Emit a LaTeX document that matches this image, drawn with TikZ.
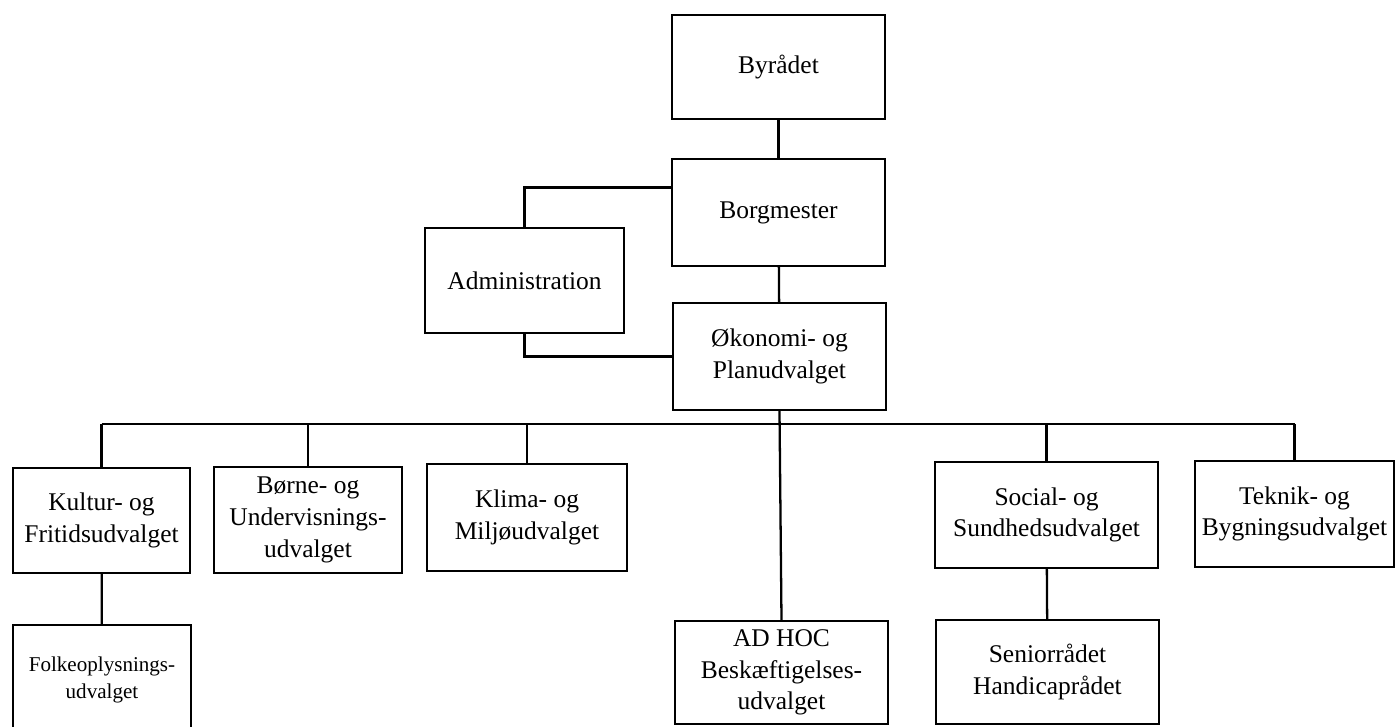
\documentclass[tikz,border=0pt]{standalone}
\usepackage{fontspec}
\setmainfont{Liberation Serif}
\usetikzlibrary{positioning,calc}

\tikzset{
  unit/.style={draw, line width=1.4pt, align=center, inner sep=2pt, font=\fontsize{14.5}{18}\selectfont},
  link/.style={line width=1.3pt},
}

\begin{document}
\begin{tikzpicture}[x=0.02cm, y=-0.02cm]
  \useasboundingbox (0,0) rectangle (1397,727);

  % Top of the hierarchy
  \node[unit, minimum width=4.26cm, minimum height=2.08cm] (byraadet) at (778.5,67) {Byrådet};
  \node[unit, minimum width=4.26cm, minimum height=2.14cm] (borgmester) at (778.5,212.5) {Borgmester};
  \node[unit, minimum width=3.98cm, minimum height=2.10cm] (admin) at (524.5,280.5) {Administration};
  \node[unit, minimum width=4.26cm, minimum height=2.14cm] (okonomi) at (779.5,356.5) {Økonomi- og\\Planudvalget};

  % Committees
  \node[unit, minimum width=3.54cm, minimum height=2.10cm] (kultur) at (101.5,520.5) {Kultur- og\\Fritidsudvalget};
  \node[unit, minimum width=3.76cm, minimum height=2.12cm] (borne) at (308,520) {Børne- og\\Undervisnings-\\udvalget};
  \node[unit, minimum width=4.00cm, minimum height=2.14cm] (klima) at (527,517.5) {Klima- og\\Miljøudvalget};
  \node[unit, minimum width=4.46cm, minimum height=2.12cm] (social) at (1046.5,515) {Social- og\\Sundhedsudvalget};
  \node[unit, minimum width=3.98cm, minimum height=2.12cm] (teknik) at (1294.5,514) {Teknik- og\\Bygningsudvalget};

  % Bottom row
  \node[unit, minimum width=3.56cm, minimum height=2.20cm, font=\fontsize{12}{15}\selectfont] (folke) at (102,680) {Folkeoplysnings-\\udvalget};
  \node[unit, minimum width=4.26cm, minimum height=2.06cm] (adhoc) at (781.5,672.5) {AD HOC\\Beskæftigelses-\\udvalget};
  \node[unit, minimum width=4.46cm, minimum height=2.08cm] (senior) at (1047.5,672) {Seniorrådet\\Handicaprådet};

  % Main line
  \draw[link] (byraadet) -- (borgmester);
  \draw[link] (borgmester) -- (okonomi);
  \draw[link] ([yshift=0.5cm]borgmester.west) -| (admin.north);
  \draw[link] (admin.south) |- (okonomi.west);

  % Committee rail
  \coordinate (bus) at (0,424);
  \draw[link] (kultur.north |- bus) -- (teknik.north |- bus);
  \foreach \n in {kultur,borne,klima,social,teknik} {
    \draw[link] (\n.north |- bus) -- (\n.north);
  }
  \draw[link] (okonomi.south) -- (adhoc.north);
  \draw[link] (kultur) -- (folke);
  \draw[link] (social) -- (senior);
\end{tikzpicture}
\end{document}
